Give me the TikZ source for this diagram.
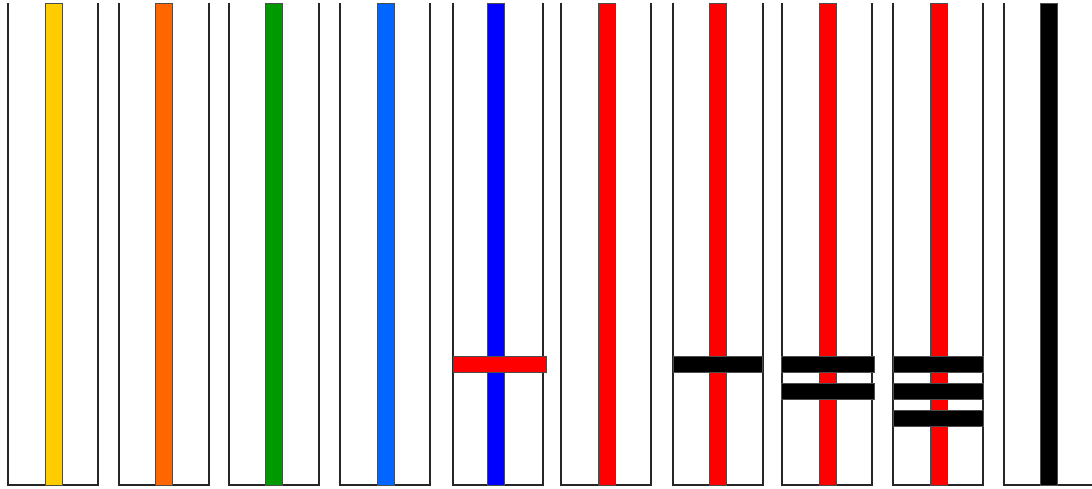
\documentclass[tikz,border=0pt]{standalone}
\usepackage{xcolor}
\usetikzlibrary{calc}
\definecolor{stripeyellow}{HTML}{FFCC00}
\definecolor{stripeorange}{HTML}{FF6600}
\definecolor{stripegreen}{HTML}{009900}
\definecolor{stripesky}{HTML}{0066FF}
\definecolor{stripeblue}{HTML}{0000FF}
\definecolor{stripered}{HTML}{FF0000}
\begin{document}
\begin{tikzpicture}[x=0.02cm, y=-0.02cm,
    panel/.style={draw=black!85, line width=0.85pt},
    stripe/.style={draw=black!70, line width=0.45pt},
    crossbar/.style={draw=black!70, line width=0.45pt}]
        \useasboundingbox (0,0) rectangle (1092,489);
        \clip (0,0) rectangle (1092,489);
        % --- Panels (open at the top) with their vertical stripes ---
        % panel left edge / stripe left edge / stripe colour
        \foreach \px/\sx/\col in {8/45/stripeyellow, 119/155/stripeorange, 229/265/stripegreen,
                                  340/377/stripesky, 453/487/stripeblue, 561/598/stripered,
                                  673/709/stripered, 782/819/stripered, 893/930/stripered,
                                  1004/1040/black} {
          \draw[panel] (\px,3) -- (\px,485) -- (\px+90,485) -- (\px+90,3);
          \filldraw[stripe, fill=\col] (\sx,3) rectangle (\sx+17,485);
        }

        % --- Cross bars ---
        % red bar on the blue stripe
        \filldraw[crossbar, fill=stripered] (453,356) rectangle (546,372);
        % one black bar
        \filldraw[crossbar, fill=black] (673,356) rectangle (762,372);
        % two black bars
        \foreach \by in {356, 383}
          \filldraw[crossbar, fill=black] (781,\by) rectangle (874,\by+16);
        % three black bars
        \foreach \by in {356, 383, 410}
          \filldraw[crossbar, fill=black] (893,\by) rectangle (983,\by+16);
\end{tikzpicture}
\end{document}
